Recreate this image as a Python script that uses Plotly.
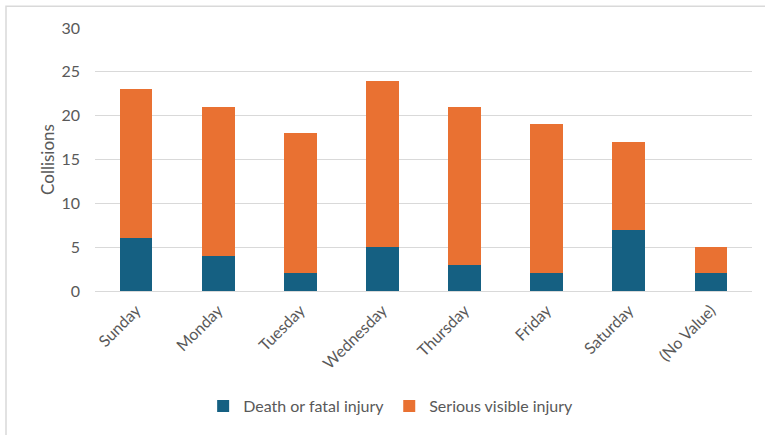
import plotly.graph_objects as go

# Collisions by day of week, split by severity
days = ["Sunday", "Monday", "Tuesday", "Wednesday", "Thursday", "Friday", "Saturday", "(No Value)"]
fatal = [6, 4, 2, 5, 3, 2, 7, 2]
serious = [17, 17, 16, 19, 18, 17, 10, 3]
y_ticks = [0, 5, 10, 15, 20, 25, 30]

BLUE = "#156082"
ORANGE = "#E97132"
TEXT = "#595959"
GRID = "#D9D9D9"
FONT = "Lato, Open Sans, sans-serif"

W, H = 765, 435
L, R, T, B = 95, 13, 28, 142
pw, ph = W - L - R, H - T - B

fig = go.Figure()
fig.add_bar(x=days, y=fatal, name="Death or fatal injury", marker_color=BLUE,
            marker_line_width=0)
fig.add_bar(x=days, y=serious, name="Serious visible injury", marker_color=ORANGE,
            marker_line_width=0)

# light frame around the chart area
fig.add_shape(type="rect", xref="paper", yref="paper",
              x0=(6 - L) / pw, x1=1 + (R + 10) / pw,
              y0=-(B + 10) / ph, y1=1 + (T - 6) / ph,
              line=dict(color="#D9D9D9", width=1.5), fillcolor="rgba(0,0,0,0)", layer="below")

fig.update_layout(
    width=W, height=H,
    margin=dict(l=L, r=R, t=T, b=B),
    barmode="stack",
    bargap=0.6,
    paper_bgcolor="white",
    plot_bgcolor="white",
    font=dict(family=FONT, color=TEXT, size=16),
    showlegend=True,
    legend=dict(orientation="h", x=0.45, xanchor="center", y=-(409 - T - ph) / ph,
                yanchor="middle", font=dict(size=16, color=TEXT), traceorder="normal",
                itemwidth=30),
    xaxis=dict(tickangle=-45, showgrid=False, showline=False, ticks="",
               ticklabelstandoff=6, tickfont=dict(size=16, color=TEXT)),
    yaxis=dict(range=[0, 30], tickvals=y_ticks, showgrid=True, gridcolor=GRID,
               gridwidth=1, zeroline=True, zerolinecolor=GRID, zerolinewidth=1,
               showline=False, ticks="", ticklabelstandoff=14,
               tickfont=dict(size=16, color=TEXT),
               title=dict(text="Collisions", font=dict(size=17, color=TEXT), standoff=2)),
)

fig.write_html("out.html")
